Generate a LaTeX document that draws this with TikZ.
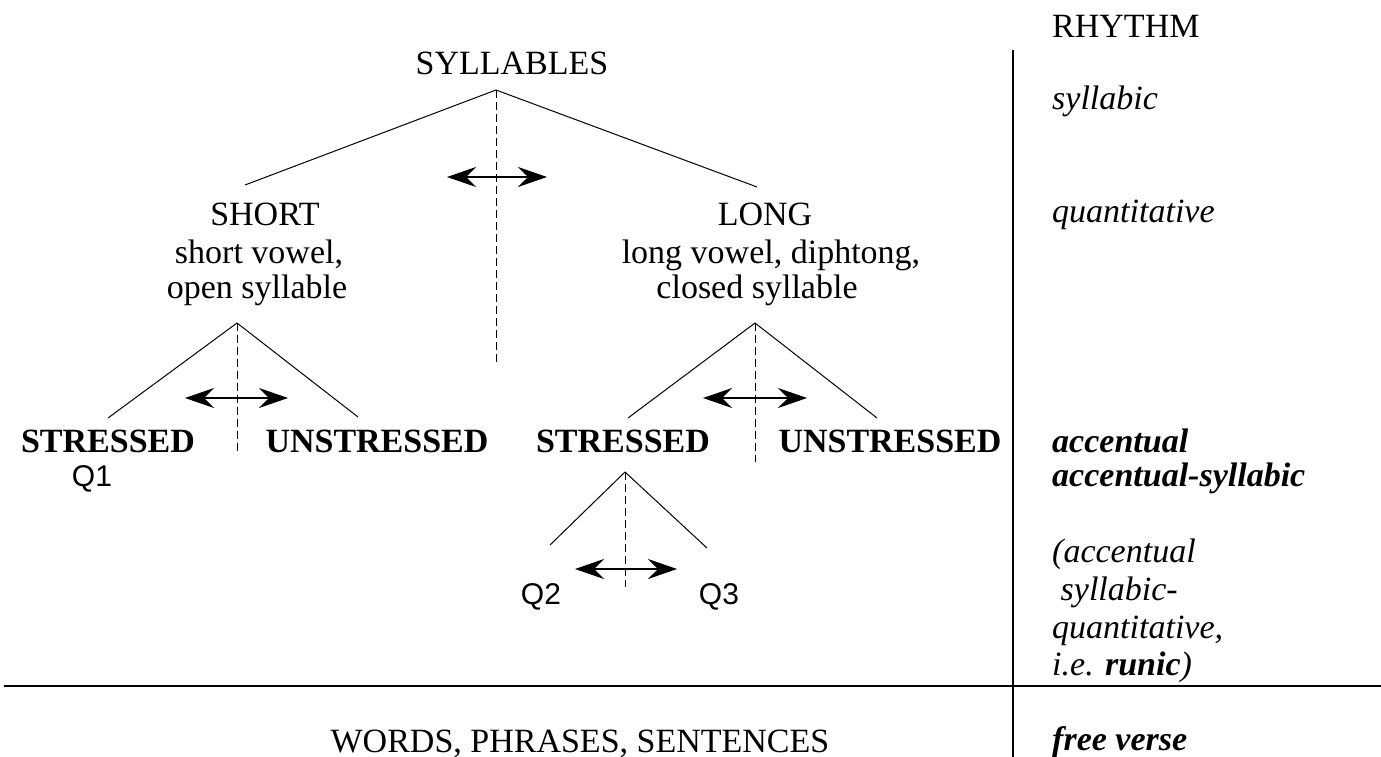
\documentclass[tikz,border=0pt]{standalone}
\usepackage{fontspec}
\setmainfont{Liberation Serif}
\newfontfamily\qfont{Liberation Sans}
\usetikzlibrary{arrows.meta}

\begin{document}
\begin{tikzpicture}[x=1pt,y=-1pt,
  lbl/.style={inner sep=0pt, anchor=base, font=\fontsize{34}{40}\selectfont},
  boldlbl/.style={lbl, font=\fontsize{34}{40}\selectfont\bfseries},
  qlbl/.style={inner sep=0pt, anchor=base, font=\fontsize{30}{36}\selectfont\qfont},
  rhy/.style={inner sep=0pt, anchor=base west, font=\fontsize{34}{40}\selectfont\itshape},
  rhybold/.style={rhy, font=\fontsize{34}{40}\selectfont\bfseries\itshape},
  branch/.style={line width=1pt},
  axis/.style={line width=1pt, dash pattern=on 8pt off 4pt},
  swap/.style={line width=1.2pt, {Stealth[length=29pt,width=20pt,inset=10pt]}-{Stealth[length=29pt,width=20pt,inset=10pt]}},
  rule/.style={line width=1.8pt}]

\useasboundingbox (0,0) rectangle (1381,757);

% ---- column rules ----
\coordinate (vtop) at (1013,50);
\coordinate (vbot) at (1013,757);
\coordinate (hl) at (4,686);
\coordinate (hr) at (1381,686);
\draw[rule] (vtop) -- (vbot);
\draw[rule] (hl) -- (hr);

% ---- top level ----
\node[lbl] (syl) at (512,75) {SYLLABLES};
\coordinate (s0) at (496,90);
\coordinate (s0l) at (245,185);
\coordinate (s0r) at (757,187);
\coordinate (s0d) at (496,365);
\draw[branch] (s0l) -- (s0) -- (s0r);
\draw[axis] (s0) -- (s0d);
\coordinate (s0a) at (447,177);
\coordinate (s0b) at (547,177);
\draw[swap] (s0a) -- (s0b);

% ---- short branch ----
\node[lbl] (short) at (265,225) {SHORT};
\node[lbl] (shortA) at (259,263) {short vowel,};
\node[lbl] (shortB) at (257,298) {open syllable};
\coordinate (s1) at (237,323);
\coordinate (s1l) at (108,418);
\coordinate (s1r) at (358,417);
\coordinate (s1d) at (237,455);
\draw[branch] (s1l) -- (s1) -- (s1r);
\draw[axis] (s1) -- (s1d);
\coordinate (s1a) at (185,398);
\coordinate (s1b) at (288,398);
\draw[swap] (s1a) -- (s1b);
\node[boldlbl] (str1) at (108,452) {STRESSED};
\node[boldlbl] (uns1) at (377,452) {UNSTRESSED};
\node[qlbl] (q1) at (92,486) {Q1};

% ---- long branch ----
\node[lbl] (long) at (765,225) {LONG};
\node[lbl] (longA) at (771,263) {long vowel, diphtong,};
\node[lbl] (longB) at (757,298) {closed syllable};
\coordinate (s2) at (755,323);
\coordinate (s2l) at (628,418);
\coordinate (s2r) at (877,418);
\coordinate (s2d) at (755,462);
\draw[branch] (s2l) -- (s2) -- (s2r);
\draw[axis] (s2) -- (s2d);
\coordinate (s2a) at (703,398);
\coordinate (s2b) at (807,398);
\draw[swap] (s2a) -- (s2b);
\node[boldlbl] (str2) at (623,452) {STRESSED};
\node[boldlbl] (uns2) at (890,452) {UNSTRESSED};

% ---- stressed long ----
\coordinate (s3) at (625,472);
\coordinate (s3l) at (550,545);
\coordinate (s3r) at (707,548);
\coordinate (s3d) at (625,587);
\draw[branch] (s3l) -- (s3) -- (s3r);
\draw[axis] (s3) -- (s3d);
\coordinate (s3a) at (575,569);
\coordinate (s3b) at (677,569);
\draw[swap] (s3a) -- (s3b);
\node[qlbl] (q2) at (541,604) {Q2};
\node[qlbl] (q3) at (719,604) {Q3};

% ---- lower band ----
\node[lbl] (words) at (580,752) {WORDS, PHRASES, SENTENCES};

% ---- rhythm column ----
\node[lbl, anchor=base west] (rhythm) at (1052,38) {RHYTHM};
\node[rhy] (r1) at (1052,110) {syllabic};
\node[rhy] (r2) at (1052,222) {quantitative};
\node[rhybold] (r3) at (1052,452) {accentual};
\node[rhybold] (r4) at (1052,486) {accentual-syllabic};
\node[rhy] (r5) at (1052,562) {(accentual};
\node[rhy] (r6) at (1052,600) {\ syllabic-};
\node[rhy] (r7) at (1052,638) {quantitative,};
\node[rhy] (r8) at (1052,675) {i.e. \textbf{runic}\/)};
\node[rhybold] (r9) at (1052,750) {free verse};

\end{tikzpicture}
\end{document}
